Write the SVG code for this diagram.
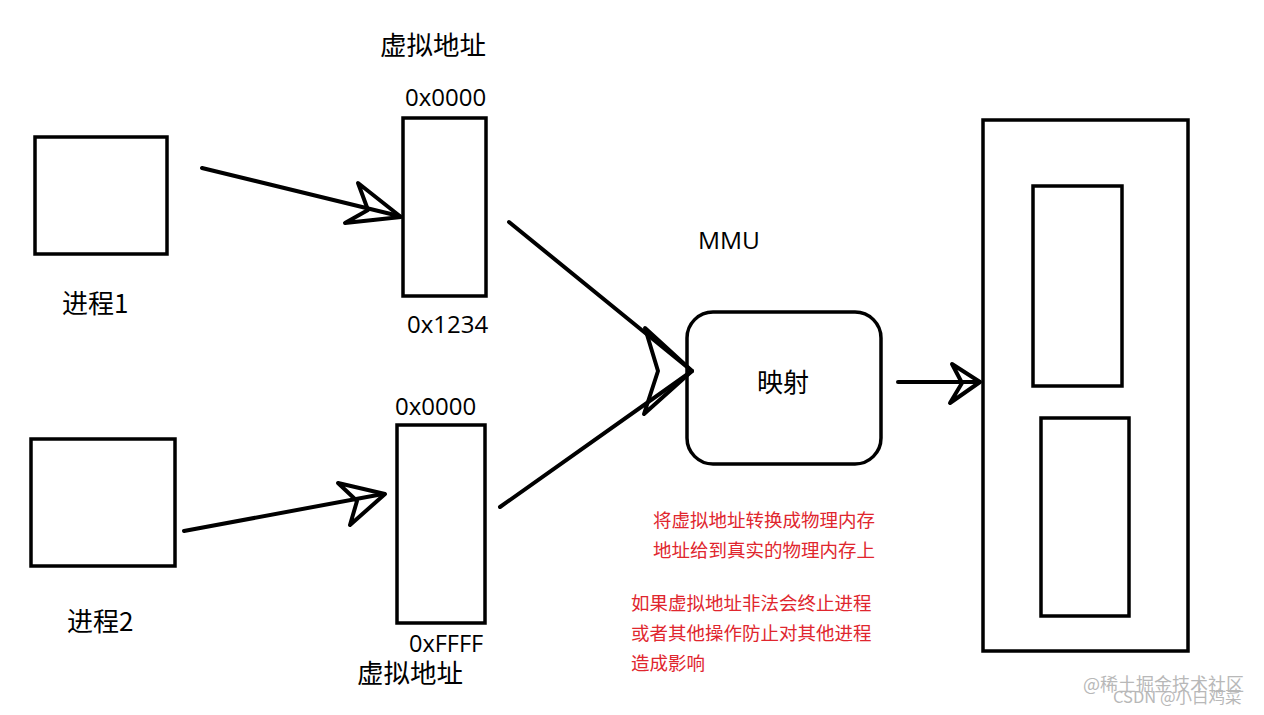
<svg xmlns="http://www.w3.org/2000/svg" width="1264" height="715" viewBox="0 0 1264 715">
<style>
.box{fill:none;stroke:#000;stroke-width:3.5}
.ln{fill:none;stroke:#000;stroke-width:4;stroke-linecap:round;stroke-linejoin:round}
.t{font-family:"Noto Sans CJK SC","Noto Sans",sans-serif;fill:#000}
.n{font-family:"Open Sans","Noto Sans",sans-serif;fill:#000}
.r{font-family:"Noto Sans CJK SC",sans-serif;fill:#e0262e;font-size:18.5px}
.w{font-family:"Noto Sans CJK SC",sans-serif;fill:#b8b8b8}
</style>
<rect width="1264" height="715" fill="#fff"/>
<g id="process1">
<rect class="box" x="35" y="137" width="132" height="117"/>
<text class="t" x="62" y="313" font-size="26">进程1</text>
</g>
<g id="process2">
<rect class="box" x="31" y="439" width="144" height="127"/>
<text class="t" x="67" y="631" font-size="26">进程2</text>
</g>
<g id="vaddr1">
<text class="t" x="380" y="55" font-size="26.5">虚拟地址</text>
<text class="n" x="405" y="106" font-size="24">0x0000</text>
<rect class="box" x="403" y="118" width="83" height="178"/>
<text class="n" x="407" y="333" font-size="24">0x1234</text>
</g>
<g id="vaddr2">
<text class="n" x="395" y="415" font-size="24">0x0000</text>
<rect class="box" x="397" y="425" width="88" height="198"/>
<text class="n" x="409" y="652" font-size="23.5">0xFFFF</text>
<text class="t" x="357" y="683" font-size="26.5">虚拟地址</text>
</g>
<g id="mmu">
<text class="n" x="698" y="249" font-size="24.5">MMU</text>
<rect class="box" x="687" y="312" width="194" height="152" rx="26"/>
<text class="t" x="757" y="392" font-size="26">映射</text>
</g>
<g id="physical">
<rect class="box" x="983" y="120" width="205" height="531"/>
<rect class="box" x="1033" y="186" width="89" height="200"/>
<rect class="box" x="1041" y="418" width="88" height="198"/>
</g>
<g id="notes">
<text class="r" x="653" y="527">将虚拟地址转换成物理内存</text>
<text class="r" x="653" y="557">地址给到真实的物理内存上</text>
<text class="r" x="631" y="610">如果虚拟地址非法会终止进程</text>
<text class="r" x="631" y="640">或者其他操作防止对其他进程</text>
<text class="r" x="631" y="670">造成影响</text>
</g>
<g id="connectors">
<line class="ln" x1="202" y1="168" x2="399" y2="216"/>
<polygon class="ln" points="401,217 358,183 368,210 345,223"/>
<line class="ln" x1="184" y1="531" x2="383" y2="494"/>
<polygon class="ln" points="385,494 338,483 357,501 350,525"/>
<line class="ln" x1="509" y1="222" x2="692" y2="371"/>
<line class="ln" x1="500" y1="507" x2="692" y2="371"/>
<polygon class="ln" points="692,371 645,328 658,371 644,414"/>
<line class="ln" x1="898" y1="382" x2="978" y2="382"/>
<polygon class="ln" points="980,382 952,364 962,383 950,403"/>
</g>
<g id="watermark">
<text class="w" x="1083" y="691" font-size="18">@稀土掘金技术社区</text>
<text class="w" x="1113" y="703" font-size="16.5">CSDN @小白鸡菜</text>
</g>
</svg>
